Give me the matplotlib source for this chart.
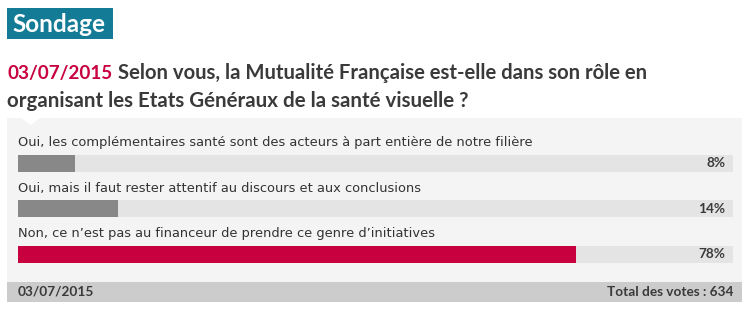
import matplotlib.pyplot as plt
from matplotlib.patches import Rectangle, Polygon

# poll data
options = [
    "Oui, les complémentaires santé sont des acteurs à part entière de notre filière",
    "Oui, mais il faut rester attentif au discours et aux conclusions",
    "Non, ce n\u2019est pas au financeur de prendre ce genre d\u2019initiatives",
]
percents = [8, 14, 78]
bar_colors = ["#888888", "#888888", "#c8003f"]
poll_date = "03/07/2015"
question = ["Selon vous, la Mutualité Française est-elle dans son rôle en",
            "organisant les Etats Généraux de la santé visuelle ?"]
total_votes = 634

W, H = 747, 314
fig = plt.figure(figsize=(W / 100, H / 100), dpi=100)
fig.patch.set_facecolor("white")

# background canvas in pixel coordinates
bg = fig.add_axes([0, 0, 1, 1])
bg.set_xlim(0, W)
bg.set_ylim(H, 0)
bg.axis("off")

title_font = "Lato"
text_col = "#3a3a3a"

# "Sondage" header
bg.add_patch(Rectangle((7, 8), 106, 31, color="#137b95", lw=0))
bg.text(12, 24, "Sondage", color="white", fontsize=17.5, fontweight="bold",
        family=title_font, va="center", ha="left")

# question: date in red, then the question right after it
t_date = bg.text(7, 73, poll_date, color="#c8003f", fontsize=13.6, family=title_font,
                 fontweight="bold", va="center", ha="left")
renderer = fig.canvas.get_renderer()
bb = t_date.get_window_extent(renderer)
bg.text(bb.x1 + 6, 73, question[0], color=text_col, fontsize=14.6, family=title_font,
        fontweight="bold", va="center", ha="left")
bg.text(7, 101, question[1], color=text_col, fontsize=14.8, family=title_font,
        fontweight="bold", va="center", ha="left")

# panel + footer
bg.add_patch(Rectangle((7, 118), 735, 164, color="#f4f4f4", lw=0))
bg.add_patch(Polygon([(21, 118), (40, 118), (30.5, 125)], closed=True,
                     color="white", lw=0))
bg.add_patch(Rectangle((7, 282), 735, 20, color="#cccccc", lw=0))
bg.text(18, 292, poll_date, color=text_col, fontsize=9.8, family=title_font,
        fontweight="bold", va="center", ha="left")
bg.text(733, 292, "Total des votes : %d" % total_votes, color=text_col,
        fontsize=9.8, family=title_font, fontweight="bold", va="center", ha="right")

# bars axes
x0, x1 = 18, 733
ytop, ybot = 118, 282
ax = fig.add_axes([x0 / W, 1 - ybot / H, (x1 - x0) / W, (ybot - ytop) / H])
ax.set_xlim(0, 100)
ax.set_ylim(2.61, -1.0)
ax.axis("off")
ax.patch.set_alpha(0)

ypos = list(range(len(options)))
ax.barh(ypos, [100] * len(options), height=0.37, color="#e4e4e4", lw=0)
ax.barh(ypos, percents, height=0.37, color=bar_colors, lw=0)
for i, (opt, p) in enumerate(zip(options, percents)):
    ax.text(0, i - 0.45, opt, fontsize=9.4, family="DejaVu Sans", color="#333333",
            va="center", ha="left")
    ax.text(98.9, i, "%d%%" % p, fontsize=9.8, family=title_font, fontweight="bold",
            color=text_col, va="center", ha="right")

fig.savefig("out.png", dpi=100)
